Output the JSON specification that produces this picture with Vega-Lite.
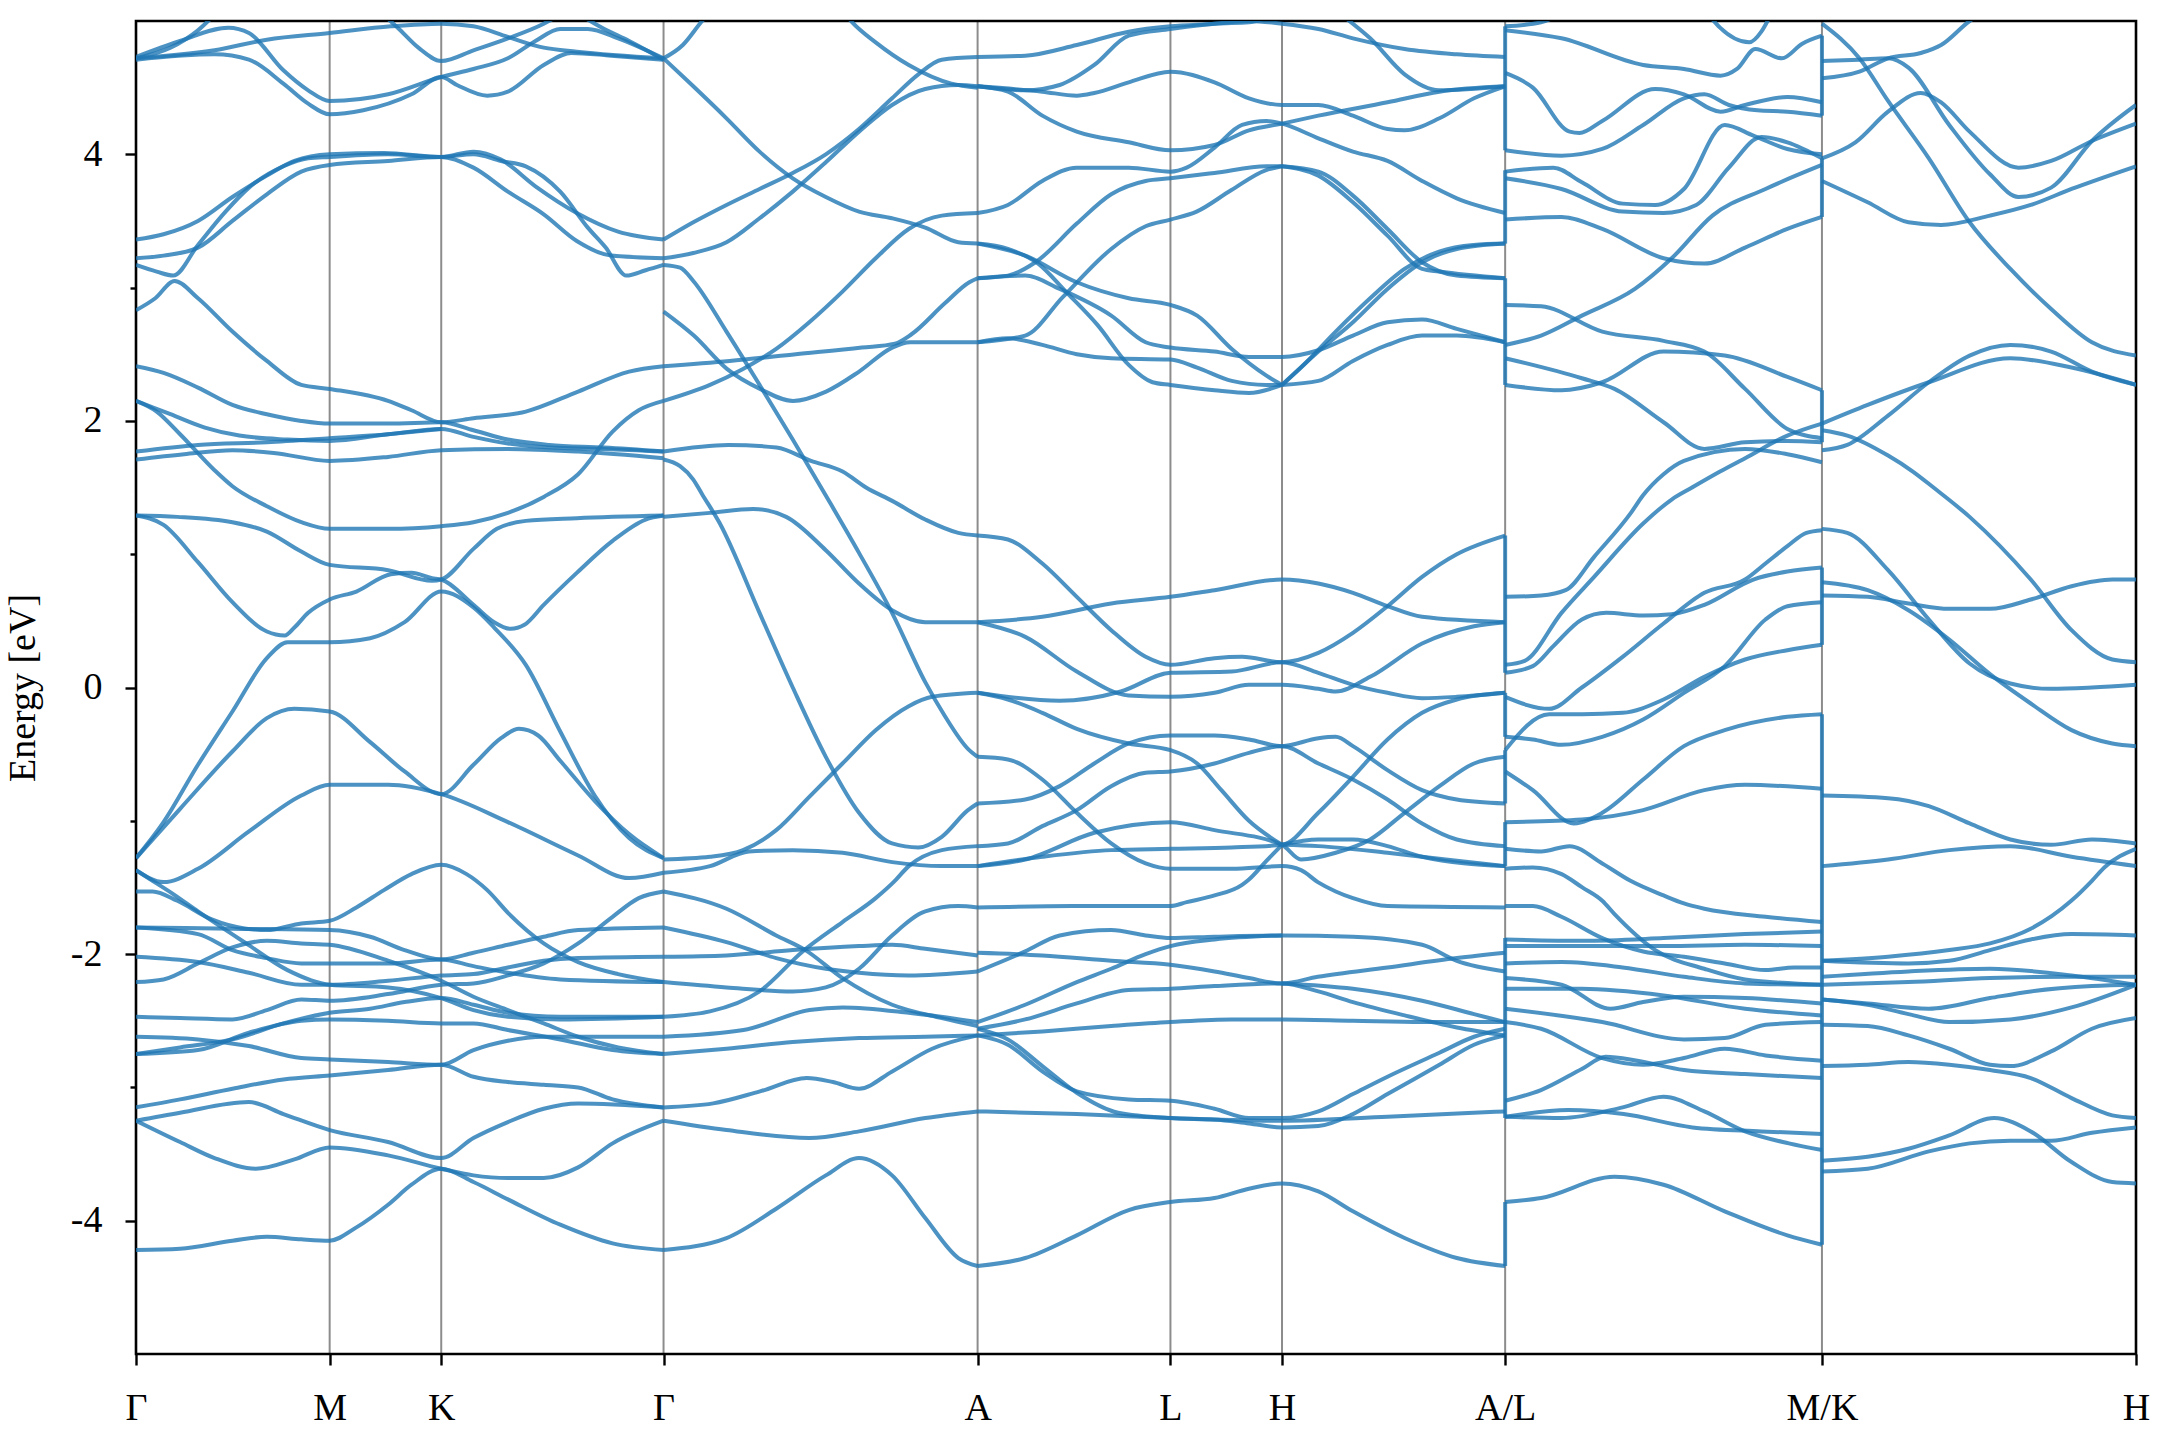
{
  "$schema": "https://vega.github.io/schema/vega-lite/v6.json",
  "width": 2000,
  "height": 1333,
  "autosize": {"type": "none"},
  "padding": {"left": 136, "top": 21, "right": 24, "bottom": 86},
  "background": "white",
  "config": {
    "view": {"stroke": "black", "strokeWidth": 2.6},
    "font": "Liberation Serif"
  },
  "datasets": {
    "sym": [{"k":140.6},{"k":221.6},{"k":383},{"k":611},{"k":751},{"k":832},{"k":994},{"k":1224}],
    "jumps": [
      {"k":994,"e":4.96,"e2":4.03},{"k":994,"e":3.88,"e2":3.33},{"k":994,"e":3.07,"e2":2.27},
      {"k":994,"e":1.14,"e2":0.11},{"k":994,"e":-0.04,"e2":-0.37},{"k":994,"e":-0.47,"e2":-0.87},
      {"k":994,"e":-1.01,"e2":-1.34},{"k":994,"e":-1.88,"e2":-3.23},{"k":994,"e":-3.86,"e2":-4.34},
      {"k":1224,"e":4.89,"e2":4.29},{"k":1224,"e":3.97,"e2":3.53},{"k":1224,"e":2.23,"e2":1.84},
      {"k":1224,"e":0.90,"e2":0.32},{"k":1224,"e":-0.20,"e2":-4.18}
    ],
    "bands": [
{"b":"A1","k":0,"e":4.72},{"b":"A1","k":25,"e":4.80},{"b":"A1","k":45,"e":4.93},{"b":"A1","k":60,"e":5.08},
{"b":"A2","k":0,"e":4.73},{"b":"A2","k":32,"e":4.85},{"b":"A2","k":67,"e":4.95},{"b":"A2","k":82,"e":4.91},{"b":"A2","k":107,"e":4.63},{"b":"A2","k":125,"e":4.48},{"b":"A2","k":140.6,"e":4.40},{"b":"A2","k":183,"e":4.45},{"b":"A2","k":221.6,"e":4.58},{"b":"A2","k":245,"e":4.64},{"b":"A2","k":270,"e":4.72},{"b":"A2","k":290,"e":4.85},{"b":"A2","k":308,"e":4.94},{"b":"A2","k":328,"e":4.94},{"b":"A2","k":350,"e":4.87},{"b":"A2","k":383,"e":4.72},
{"b":"A3","k":0,"e":4.71},{"b":"A3","k":57,"e":4.75},{"b":"A3","k":82,"e":4.71},{"b":"A3","k":107,"e":4.53},{"b":"A3","k":125,"e":4.38},{"b":"A3","k":140.6,"e":4.30},{"b":"A3","k":165,"e":4.33},{"b":"A3","k":200,"e":4.45},{"b":"A3","k":221.6,"e":4.58},{"b":"A3","k":233,"e":4.52},{"b":"A3","k":255,"e":4.44},{"b":"A3","k":270,"e":4.47},{"b":"A3","k":296,"e":4.67},{"b":"A3","k":316,"e":4.76},{"b":"A3","k":345,"e":4.74},{"b":"A3","k":383,"e":4.71},
{"b":"A4","k":0,"e":4.72},{"b":"A4","k":57,"e":4.78},{"b":"A4","k":95,"e":4.86},{"b":"A4","k":140.6,"e":4.91},{"b":"A4","k":185,"e":4.96},{"b":"A4","k":221.6,"e":4.98},{"b":"A4","k":245,"e":4.96},{"b":"A4","k":270,"e":4.88},{"b":"A4","k":296,"e":4.80},{"b":"A4","k":320,"e":4.77},{"b":"A4","k":383,"e":4.72},
{"b":"A5","k":178,"e":5.06},{"b":"A5","k":190,"e":4.95},{"b":"A5","k":205,"e":4.80},{"b":"A5","k":221.6,"e":4.70},{"b":"A5","k":245,"e":4.78},{"b":"A5","k":270,"e":4.87},{"b":"A5","k":296,"e":4.98},{"b":"A5","k":305,"e":5.03},
{"b":"A6","k":320,"e":5.06},{"b":"A6","k":340,"e":4.94},{"b":"A6","k":358,"e":4.85},{"b":"A6","k":383,"e":4.71},
{"b":"A7","k":0,"e":3.36},{"b":"A7","k":20,"e":3.40},{"b":"A7","k":45,"e":3.50},{"b":"A7","k":70,"e":3.68},{"b":"A7","k":95,"e":3.84},{"b":"A7","k":115,"e":3.95},{"b":"A7","k":140.6,"e":4.00},{"b":"A7","k":180,"e":4.01},{"b":"A7","k":221.6,"e":3.98},{"b":"A7","k":245,"e":4.02},{"b":"A7","k":265,"e":3.96},{"b":"A7","k":290,"e":3.76},{"b":"A7","k":320,"e":3.56},{"b":"A7","k":350,"e":3.42},{"b":"A7","k":383,"e":3.36},
{"b":"A8","k":0,"e":3.22},{"b":"A8","k":20,"e":3.24},{"b":"A8","k":45,"e":3.30},{"b":"A8","k":70,"e":3.50},{"b":"A8","k":95,"e":3.70},{"b":"A8","k":120,"e":3.87},{"b":"A8","k":140.6,"e":3.92},{"b":"A8","k":183,"e":3.95},{"b":"A8","k":221.6,"e":3.98},{"b":"A8","k":245,"e":3.90},{"b":"A8","k":270,"e":3.72},{"b":"A8","k":296,"e":3.55},{"b":"A8","k":320,"e":3.35},{"b":"A8","k":345,"e":3.24},{"b":"A8","k":383,"e":3.22},
{"b":"A9","k":0,"e":3.17},{"b":"A9","k":15,"e":3.12},{"b":"A9","k":27,"e":3.09},{"b":"A9","k":45,"e":3.32},{"b":"A9","k":65,"e":3.57},{"b":"A9","k":82,"e":3.75},{"b":"A9","k":107,"e":3.91},{"b":"A9","k":125,"e":3.97},{"b":"A9","k":140.6,"e":3.98},{"b":"A9","k":183,"e":4.00},{"b":"A9","k":221.6,"e":3.98},{"b":"A9","k":245,"e":4.00},{"b":"A9","k":265,"e":3.95},{"b":"A9","k":283,"e":3.91},{"b":"A9","k":308,"e":3.72},{"b":"A9","k":328,"e":3.45},{"b":"A9","k":341,"e":3.30},{"b":"A9","k":356,"e":3.09},{"b":"A9","k":370,"e":3.13},{"b":"A9","k":383,"e":3.17},
{"b":"A10","k":0,"e":2.83},{"b":"A10","k":14,"e":2.92},{"b":"A10","k":28,"e":3.05},{"b":"A10","k":45,"e":2.92},{"b":"A10","k":70,"e":2.67},{"b":"A10","k":95,"e":2.45},{"b":"A10","k":120,"e":2.27},{"b":"A10","k":140.6,"e":2.24},{"b":"A10","k":183,"e":2.15},{"b":"A10","k":200,"e":2.08},{"b":"A10","k":221.6,"e":1.99},{"b":"A10","k":245,"e":2.02},{"b":"A10","k":283,"e":2.07},{"b":"A10","k":321,"e":2.22},{"b":"A10","k":358,"e":2.37},{"b":"A10","k":383,"e":2.41},
{"b":"A12","k":0,"e":2.41},{"b":"A12","k":20,"e":2.36},{"b":"A12","k":45,"e":2.25},{"b":"A12","k":70,"e":2.12},{"b":"A12","k":95,"e":2.05},{"b":"A12","k":120,"e":2.00},{"b":"A12","k":140.6,"e":1.98},{"b":"A12","k":183,"e":1.98},{"b":"A12","k":221.6,"e":1.99},{"b":"A12","k":245,"e":1.93},{"b":"A12","k":270,"e":1.86},{"b":"A12","k":300,"e":1.82},{"b":"A12","k":340,"e":1.80},{"b":"A12","k":383,"e":1.77},
{"b":"A13","k":0,"e":2.15},{"b":"A13","k":15,"e":2.07},{"b":"A13","k":32,"e":1.90},{"b":"A13","k":57,"e":1.63},{"b":"A13","k":70,"e":1.51},{"b":"A13","k":95,"e":1.36},{"b":"A13","k":120,"e":1.24},{"b":"A13","k":140.6,"e":1.19},{"b":"A13","k":183,"e":1.19},{"b":"A13","k":221.6,"e":1.21},{"b":"A13","k":245,"e":1.24},{"b":"A13","k":270,"e":1.31},{"b":"A13","k":296,"e":1.43},{"b":"A13","k":321,"e":1.60},{"b":"A13","k":346,"e":1.92},{"b":"A13","k":365,"e":2.08},{"b":"A13","k":383,"e":2.15},
{"b":"A33","k":0,"e":1.77},{"b":"A33","k":45,"e":1.82},{"b":"A33","k":95,"e":1.84},{"b":"A33","k":140.6,"e":1.87},{"b":"A33","k":183,"e":1.90},{"b":"A33","k":221.6,"e":1.94},{"b":"A33","k":245,"e":1.88},{"b":"A33","k":270,"e":1.83},{"b":"A33","k":300,"e":1.80},{"b":"A33","k":340,"e":1.79},{"b":"A33","k":383,"e":1.77},
{"b":"A34","k":0,"e":1.71},{"b":"A34","k":35,"e":1.75},{"b":"A34","k":70,"e":1.78},{"b":"A34","k":100,"e":1.76},{"b":"A34","k":140.6,"e":1.70},{"b":"A34","k":183,"e":1.73},{"b":"A34","k":221.6,"e":1.78},{"b":"A34","k":270,"e":1.79},{"b":"A34","k":321,"e":1.77},{"b":"A34","k":383,"e":1.72},
{"b":"A35","k":0,"e":2.15},{"b":"A35","k":25,"e":2.05},{"b":"A35","k":50,"e":1.95},{"b":"A35","k":75,"e":1.89},{"b":"A35","k":110,"e":1.86},{"b":"A35","k":140.6,"e":1.85},{"b":"A35","k":183,"e":1.90},{"b":"A35","k":221.6,"e":1.94},
{"b":"A14","k":0,"e":1.29},{"b":"A14","k":30,"e":1.28},{"b":"A14","k":70,"e":1.24},{"b":"A14","k":95,"e":1.17},{"b":"A14","k":120,"e":1.02},{"b":"A14","k":140.6,"e":0.92},{"b":"A14","k":183,"e":0.88},{"b":"A14","k":215,"e":0.80},{"b":"A14","k":221.6,"e":0.81},{"b":"A14","k":245,"e":1.04},{"b":"A14","k":262,"e":1.19},{"b":"A14","k":283,"e":1.25},{"b":"A14","k":320,"e":1.27},{"b":"A14","k":383,"e":1.29},
{"b":"A15","k":0,"e":1.29},{"b":"A15","k":20,"e":1.22},{"b":"A15","k":45,"e":0.94},{"b":"A15","k":70,"e":0.64},{"b":"A15","k":95,"e":0.42},{"b":"A15","k":108,"e":0.39},{"b":"A15","k":115,"e":0.45},{"b":"A15","k":125,"e":0.56},{"b":"A15","k":140.6,"e":0.66},{"b":"A15","k":160,"e":0.72},{"b":"A15","k":185,"e":0.85},{"b":"A15","k":200,"e":0.86},{"b":"A15","k":215,"e":0.82},{"b":"A15","k":221.6,"e":0.81},{"b":"A15","k":245,"e":0.62},{"b":"A15","k":260,"e":0.49},{"b":"A15","k":272,"e":0.44},{"b":"A15","k":282,"e":0.47},{"b":"A15","k":296,"e":0.62},{"b":"A15","k":320,"e":0.86},{"b":"A15","k":346,"e":1.10},{"b":"A15","k":370,"e":1.26},{"b":"A15","k":383,"e":1.29},
{"b":"A16","k":0,"e":-1.28},{"b":"A16","k":20,"e":-1.01},{"b":"A16","k":45,"e":-0.58},{"b":"A16","k":70,"e":-0.18},{"b":"A16","k":95,"e":0.22},{"b":"A16","k":110,"e":0.34},{"b":"A16","k":140.6,"e":0.34},{"b":"A16","k":170,"e":0.37},{"b":"A16","k":195,"e":0.49},{"b":"A16","k":221.6,"e":0.72},{"b":"A16","k":245,"e":0.60},{"b":"A16","k":260,"e":0.45},{"b":"A16","k":283,"e":0.17},{"b":"A16","k":308,"e":-0.33},{"b":"A16","k":333,"e":-0.81},{"b":"A16","k":358,"e":-1.13},{"b":"A16","k":383,"e":-1.28},
{"b":"A17","k":0,"e":-1.28},{"b":"A17","k":32,"e":-0.91},{"b":"A17","k":70,"e":-0.48},{"b":"A17","k":95,"e":-0.23},{"b":"A17","k":115,"e":-0.16},{"b":"A17","k":140.6,"e":-0.18},{"b":"A17","k":170,"e":-0.41},{"b":"A17","k":195,"e":-0.63},{"b":"A17","k":221.6,"e":-0.80},{"b":"A17","k":245,"e":-0.58},{"b":"A17","k":265,"e":-0.38},{"b":"A17","k":278,"e":-0.31},{"b":"A17","k":292,"e":-0.36},{"b":"A17","k":308,"e":-0.55},{"b":"A17","k":333,"e":-0.85},{"b":"A17","k":358,"e":-1.10},{"b":"A17","k":383,"e":-1.28},
{"b":"A18","k":0,"e":-1.37},{"b":"A18","k":20,"e":-1.46},{"b":"A18","k":45,"e":-1.36},{"b":"A18","k":82,"e":-1.08},{"b":"A18","k":120,"e":-0.81},{"b":"A18","k":140.6,"e":-0.73},{"b":"A18","k":183,"e":-0.73},{"b":"A18","k":221.6,"e":-0.80},{"b":"A18","k":270,"e":-1.01},{"b":"A18","k":321,"e":-1.26},{"b":"A18","k":358,"e":-1.43},{"b":"A18","k":383,"e":-1.39},
{"b":"A19","k":0,"e":-1.37},{"b":"A19","k":12,"e":-1.45},{"b":"A19","k":27,"e":-1.55},{"b":"A19","k":45,"e":-1.68},{"b":"A19","k":80,"e":-1.92},{"b":"A19","k":110,"e":-2.12},{"b":"A19","k":140.6,"e":-2.23},{"b":"A19","k":183,"e":-2.25},{"b":"A19","k":221.6,"e":-2.33},{"b":"A19","k":245,"e":-2.42},{"b":"A19","k":270,"e":-2.47},{"b":"A19","k":308,"e":-2.49},{"b":"A19","k":383,"e":-2.47},
{"b":"A20","k":0,"e":-1.53},{"b":"A20","k":12,"e":-1.53},{"b":"A20","k":30,"e":-1.60},{"b":"A20","k":55,"e":-1.74},{"b":"A20","k":80,"e":-1.81},{"b":"A20","k":95,"e":-1.82},{"b":"A20","k":120,"e":-1.77},{"b":"A20","k":140.6,"e":-1.75},{"b":"A20","k":160,"e":-1.65},{"b":"A20","k":180,"e":-1.52},{"b":"A20","k":200,"e":-1.40},{"b":"A20","k":221.6,"e":-1.33},{"b":"A20","k":240,"e":-1.40},{"b":"A20","k":255,"e":-1.52},{"b":"A20","k":271,"e":-1.70},{"b":"A20","k":296,"e":-1.92},{"b":"A20","k":321,"e":-2.06},{"b":"A20","k":350,"e":-2.15},{"b":"A20","k":383,"e":-2.21},
{"b":"A21","k":0,"e":-1.80},{"b":"A21","k":70,"e":-1.81},{"b":"A21","k":140.6,"e":-1.82},{"b":"A21","k":170,"e":-1.87},{"b":"A21","k":195,"e":-1.97},{"b":"A21","k":221.6,"e":-2.04},{"b":"A21","k":245,"e":-1.99},{"b":"A21","k":270,"e":-1.93},{"b":"A21","k":296,"e":-1.87},{"b":"A21","k":321,"e":-1.82},{"b":"A21","k":383,"e":-1.80},
{"b":"A22","k":0,"e":-1.80},{"b":"A22","k":45,"e":-1.85},{"b":"A22","k":70,"e":-1.97},{"b":"A22","k":95,"e":-2.03},{"b":"A22","k":120,"e":-2.07},{"b":"A22","k":140.6,"e":-2.07},{"b":"A22","k":183,"e":-2.07},{"b":"A22","k":221.6,"e":-2.04},{"b":"A22","k":245,"e":-2.09},{"b":"A22","k":270,"e":-2.14},{"b":"A22","k":308,"e":-2.19},{"b":"A22","k":383,"e":-2.21},
{"b":"A23","k":0,"e":-2.02},{"b":"A23","k":45,"e":-2.06},{"b":"A23","k":82,"e":-2.14},{"b":"A23","k":120,"e":-2.23},{"b":"A23","k":140.6,"e":-2.23},{"b":"A23","k":183,"e":-2.20},{"b":"A23","k":221.6,"e":-2.16},{"b":"A23","k":245,"e":-2.15},{"b":"A23","k":270,"e":-2.10},{"b":"A23","k":296,"e":-2.05},{"b":"A23","k":321,"e":-2.03},{"b":"A23","k":383,"e":-2.02},
{"b":"A24","k":0,"e":-2.21},{"b":"A24","k":20,"e":-2.19},{"b":"A24","k":45,"e":-2.07},{"b":"A24","k":70,"e":-1.95},{"b":"A24","k":95,"e":-1.90},{"b":"A24","k":120,"e":-1.92},{"b":"A24","k":140.6,"e":-1.93},{"b":"A24","k":183,"e":-2.05},{"b":"A24","k":221.6,"e":-2.20},{"b":"A24","k":245,"e":-2.32},{"b":"A24","k":270,"e":-2.42},{"b":"A24","k":296,"e":-2.52},{"b":"A24","k":321,"e":-2.62},{"b":"A24","k":350,"e":-2.70},{"b":"A24","k":383,"e":-2.75},
{"b":"A25","k":0,"e":-2.47},{"b":"A25","k":32,"e":-2.48},{"b":"A25","k":70,"e":-2.49},{"b":"A25","k":95,"e":-2.42},{"b":"A25","k":120,"e":-2.34},{"b":"A25","k":140.6,"e":-2.35},{"b":"A25","k":183,"e":-2.30},{"b":"A25","k":221.6,"e":-2.23},{"b":"A25","k":245,"e":-2.22},{"b":"A25","k":270,"e":-2.16},{"b":"A25","k":296,"e":-2.07},{"b":"A25","k":321,"e":-1.92},{"b":"A25","k":346,"e":-1.72},{"b":"A25","k":365,"e":-1.58},{"b":"A25","k":383,"e":-1.53},
{"b":"A26","k":0,"e":-2.75},{"b":"A26","k":32,"e":-2.70},{"b":"A26","k":70,"e":-2.64},{"b":"A26","k":107,"e":-2.52},{"b":"A26","k":140.6,"e":-2.44},{"b":"A26","k":170,"e":-2.41},{"b":"A26","k":195,"e":-2.36},{"b":"A26","k":221.6,"e":-2.33},{"b":"A26","k":245,"e":-2.38},{"b":"A26","k":270,"e":-2.44},{"b":"A26","k":308,"e":-2.47},{"b":"A26","k":383,"e":-2.47},
{"b":"A27","k":0,"e":-2.62},{"b":"A27","k":45,"e":-2.64},{"b":"A27","k":82,"e":-2.69},{"b":"A27","k":120,"e":-2.78},{"b":"A27","k":140.6,"e":-2.79},{"b":"A27","k":183,"e":-2.81},{"b":"A27","k":221.6,"e":-2.83},{"b":"A27","k":245,"e":-2.72},{"b":"A27","k":270,"e":-2.65},{"b":"A27","k":296,"e":-2.62},{"b":"A27","k":383,"e":-2.62},
{"b":"A28","k":0,"e":-2.75},{"b":"A28","k":45,"e":-2.72},{"b":"A28","k":82,"e":-2.59},{"b":"A28","k":120,"e":-2.50},{"b":"A28","k":140.6,"e":-2.49},{"b":"A28","k":183,"e":-2.50},{"b":"A28","k":221.6,"e":-2.52},{"b":"A28","k":245,"e":-2.52},{"b":"A28","k":270,"e":-2.57},{"b":"A28","k":308,"e":-2.64},{"b":"A28","k":346,"e":-2.72},{"b":"A28","k":383,"e":-2.75},
{"b":"A29","k":0,"e":-3.15},{"b":"A29","k":32,"e":-3.09},{"b":"A29","k":70,"e":-3.01},{"b":"A29","k":107,"e":-2.94},{"b":"A29","k":140.6,"e":-2.91},{"b":"A29","k":183,"e":-2.87},{"b":"A29","k":221.6,"e":-2.83},{"b":"A29","k":245,"e":-2.92},{"b":"A29","k":270,"e":-2.96},{"b":"A29","k":296,"e":-2.98},{"b":"A29","k":321,"e":-3.00},{"b":"A29","k":346,"e":-3.09},{"b":"A29","k":383,"e":-3.15},
{"b":"A30","k":0,"e":-3.25},{"b":"A30","k":32,"e":-3.19},{"b":"A30","k":82,"e":-3.11},{"b":"A30","k":107,"e":-3.20},{"b":"A30","k":140.6,"e":-3.32},{"b":"A30","k":183,"e":-3.41},{"b":"A30","k":221.6,"e":-3.53},{"b":"A30","k":245,"e":-3.38},{"b":"A30","k":270,"e":-3.26},{"b":"A30","k":296,"e":-3.16},{"b":"A30","k":321,"e":-3.12},{"b":"A30","k":383,"e":-3.15},
{"b":"A31","k":0,"e":-3.25},{"b":"A31","k":32,"e":-3.41},{"b":"A31","k":57,"e":-3.53},{"b":"A31","k":87,"e":-3.61},{"b":"A31","k":115,"e":-3.54},{"b":"A31","k":140.6,"e":-3.45},{"b":"A31","k":183,"e":-3.51},{"b":"A31","k":221.6,"e":-3.61},{"b":"A31","k":245,"e":-3.66},{"b":"A31","k":270,"e":-3.68},{"b":"A31","k":296,"e":-3.68},{"b":"A31","k":321,"e":-3.60},{"b":"A31","k":346,"e":-3.42},{"b":"A31","k":383,"e":-3.25},
{"b":"A32","k":0,"e":-4.22},{"b":"A32","k":32,"e":-4.21},{"b":"A32","k":70,"e":-4.15},{"b":"A32","k":95,"e":-4.12},{"b":"A32","k":120,"e":-4.14},{"b":"A32","k":140.6,"e":-4.15},{"b":"A32","k":160,"e":-4.05},{"b":"A32","k":183,"e":-3.88},{"b":"A32","k":200,"e":-3.73},{"b":"A32","k":221.6,"e":-3.61},{"b":"A32","k":245,"e":-3.71},{"b":"A32","k":270,"e":-3.84},{"b":"A32","k":308,"e":-4.03},{"b":"A32","k":346,"e":-4.17},{"b":"A32","k":383,"e":-4.22},
{"b":"B1","k":383,"e":4.72},{"b":"B1","k":397,"e":4.82},{"b":"B1","k":411,"e":5.0},{"b":"B1","k":418,"e":5.08},
{"b":"B2","k":383,"e":4.72},{"b":"B2","k":404.6,"e":4.51},{"b":"B2","k":428.7,"e":4.27},{"b":"B2","k":452.7,"e":4.02},{"b":"B2","k":476.8,"e":3.82},{"b":"B2","k":500.8,"e":3.68},{"b":"B2","k":524.9,"e":3.57},{"b":"B2","k":548.9,"e":3.52},{"b":"B2","k":573,"e":3.45},{"b":"B2","k":597,"e":3.34},{"b":"B2","k":611,"e":3.33},
{"b":"B3","k":383,"e":3.36},{"b":"B3","k":404.6,"e":3.49},{"b":"B3","k":428.7,"e":3.62},{"b":"B3","k":452.7,"e":3.74},{"b":"B3","k":476.8,"e":3.86},{"b":"B3","k":500.8,"e":4.00},{"b":"B3","k":524.9,"e":4.19},{"b":"B3","k":548.9,"e":4.42},{"b":"B3","k":568,"e":4.60},{"b":"B3","k":585,"e":4.71},{"b":"B3","k":611,"e":4.73},
{"b":"B4","k":383,"e":3.22},{"b":"B4","k":404.6,"e":3.26},{"b":"B4","k":428.7,"e":3.34},{"b":"B4","k":452.7,"e":3.52},{"b":"B4","k":476.8,"e":3.72},{"b":"B4","k":500.8,"e":3.94},{"b":"B4","k":524.9,"e":4.17},{"b":"B4","k":548.9,"e":4.37},{"b":"B4","k":573,"e":4.49},{"b":"B4","k":597,"e":4.52},{"b":"B4","k":611,"e":4.51},
{"b":"B5","k":515,"e":5.05},{"b":"B5","k":520,"e":4.99},{"b":"B5","k":537,"e":4.84},{"b":"B5","k":561,"e":4.67},{"b":"B5","k":592,"e":4.53},{"b":"B5","k":611,"e":4.50},
{"b":"B6","k":383,"e":3.17},{"b":"B6","k":395,"e":3.15},{"b":"B6","k":404.6,"e":3.05},{"b":"B6","k":428.7,"e":2.67},{"b":"B6","k":452.7,"e":2.27},{"b":"B6","k":476.8,"e":1.86},{"b":"B6","k":500.8,"e":1.44},{"b":"B6","k":524.9,"e":1.01},{"b":"B6","k":548.9,"e":0.56},{"b":"B6","k":573,"e":0.04},{"b":"B6","k":587,"e":-0.21},{"b":"B6","k":604,"e":-0.46},{"b":"B6","k":611,"e":-0.52},
{"b":"B7","k":383,"e":2.82},{"b":"B7","k":405,"e":2.64},{"b":"B7","k":429,"e":2.39},{"b":"B7","k":453,"e":2.24},{"b":"B7","k":477,"e":2.15},{"b":"B7","k":501,"e":2.22},{"b":"B7","k":525,"e":2.37},{"b":"B7","k":549,"e":2.55},{"b":"B7","k":562,"e":2.59},{"b":"B7","k":585,"e":2.59},{"b":"B7","k":611,"e":2.59},
{"b":"B8","k":383,"e":2.41},{"b":"B8","k":431,"e":2.45},{"b":"B8","k":479,"e":2.50},{"b":"B8","k":527,"e":2.55},{"b":"B8","k":551,"e":2.58},{"b":"B8","k":563,"e":2.65},{"b":"B8","k":587,"e":2.88},{"b":"B8","k":605,"e":3.04},{"b":"B8","k":611,"e":3.07},
{"b":"B9","k":383,"e":2.15},{"b":"B9","k":416.7,"e":2.27},{"b":"B9","k":440.7,"e":2.39},{"b":"B9","k":464.8,"e":2.54},{"b":"B9","k":488.8,"e":2.74},{"b":"B9","k":512.9,"e":2.97},{"b":"B9","k":537,"e":3.22},{"b":"B9","k":561,"e":3.44},{"b":"B9","k":585,"e":3.54},{"b":"B9","k":611,"e":3.56},
{"b":"B10","k":383,"e":1.77},{"b":"B10","k":430,"e":1.82},{"b":"B10","k":465,"e":1.80},{"b":"B10","k":490,"e":1.70},{"b":"B10","k":513,"e":1.62},{"b":"B10","k":530,"e":1.50},{"b":"B10","k":549,"e":1.40},{"b":"B10","k":573,"e":1.26},{"b":"B10","k":597,"e":1.16},{"b":"B10","k":611,"e":1.14},
{"b":"B11","k":383,"e":1.71},{"b":"B11","k":395,"e":1.66},{"b":"B11","k":404.6,"e":1.56},{"b":"B11","k":411,"e":1.45},{"b":"B11","k":423.9,"e":1.23},{"b":"B11","k":452.7,"e":0.56},{"b":"B11","k":476.8,"e":0.00},{"b":"B11","k":500.8,"e":-0.52},{"b":"B11","k":524.9,"e":-0.94},{"b":"B11","k":548.9,"e":-1.17},{"b":"B11","k":568,"e":-1.20},{"b":"B11","k":585,"e":-1.12},{"b":"B11","k":604,"e":-0.92},{"b":"B11","k":611,"e":-0.87},
{"b":"B12","k":383,"e":1.28},{"b":"B12","k":416.7,"e":1.31},{"b":"B12","k":448,"e":1.34},{"b":"B12","k":472,"e":1.28},{"b":"B12","k":500.8,"e":1.03},{"b":"B12","k":524.9,"e":0.78},{"b":"B12","k":548.9,"e":0.58},{"b":"B12","k":573,"e":0.49},{"b":"B12","k":611,"e":0.49},
{"b":"B13","k":383,"e":-1.29},{"b":"B13","k":416.7,"e":-1.27},{"b":"B13","k":440.7,"e":-1.22},{"b":"B13","k":464.8,"e":-1.07},{"b":"B13","k":488.8,"e":-0.82},{"b":"B13","k":512.9,"e":-0.57},{"b":"B13","k":537,"e":-0.32},{"b":"B13","k":561,"e":-0.14},{"b":"B13","k":578,"e":-0.07},{"b":"B13","k":611,"e":-0.04},
{"b":"B14","k":383,"e":-1.39},{"b":"B14","k":416.7,"e":-1.34},{"b":"B14","k":445,"e":-1.23},{"b":"B14","k":476.8,"e":-1.22},{"b":"B14","k":513,"e":-1.24},{"b":"B14","k":549,"e":-1.31},{"b":"B14","k":585,"e":-1.34},{"b":"B14","k":611,"e":-1.34},
{"b":"B15","k":383,"e":-2.47},{"b":"B15","k":416.7,"e":-2.43},{"b":"B15","k":452.7,"e":-2.28},{"b":"B15","k":484,"e":-1.98},{"b":"B15","k":512.9,"e":-1.76},{"b":"B15","k":537,"e":-1.58},{"b":"B15","k":550,"e":-1.46},{"b":"B15","k":561,"e":-1.34},{"b":"B15","k":585,"e":-1.22},{"b":"B15","k":611,"e":-1.19},
{"b":"B16","k":383,"e":-1.53},{"b":"B16","k":428.7,"e":-1.66},{"b":"B16","k":464.8,"e":-1.86},{"b":"B16","k":486,"e":-1.97},{"b":"B16","k":512.9,"e":-2.18},{"b":"B16","k":549,"e":-2.38},{"b":"B16","k":585,"e":-2.48},{"b":"B16","k":611,"e":-2.54},
{"b":"B17","k":383,"e":-1.80},{"b":"B17","k":428.7,"e":-1.91},{"b":"B17","k":464.8,"e":-2.03},{"b":"B17","k":500.8,"e":-2.11},{"b":"B17","k":524.9,"e":-2.14},{"b":"B17","k":561,"e":-2.16},{"b":"B17","k":611,"e":-2.13},
{"b":"B18","k":383,"e":-2.02},{"b":"B18","k":428.7,"e":-2.01},{"b":"B18","k":476.8,"e":-1.97},{"b":"B18","k":524.9,"e":-1.94},{"b":"B18","k":548.9,"e":-1.93},{"b":"B18","k":573,"e":-1.96},{"b":"B18","k":611,"e":-2.01},
{"b":"B19","k":383,"e":-2.21},{"b":"B19","k":428.7,"e":-2.25},{"b":"B19","k":476.8,"e":-2.28},{"b":"B19","k":500.8,"e":-2.25},{"b":"B19","k":524.9,"e":-2.11},{"b":"B19","k":548.9,"e":-1.86},{"b":"B19","k":573,"e":-1.68},{"b":"B19","k":597,"e":-1.64},{"b":"B19","k":611,"e":-1.65},
{"b":"B20","k":383,"e":-2.62},{"b":"B20","k":441,"e":-2.57},{"b":"B20","k":489,"e":-2.42},{"b":"B20","k":513,"e":-2.40},{"b":"B20","k":561,"e":-2.44},{"b":"B20","k":611,"e":-2.51},
{"b":"B21","k":383,"e":-2.75},{"b":"B21","k":428.7,"e":-2.71},{"b":"B21","k":476.8,"e":-2.66},{"b":"B21","k":524.9,"e":-2.63},{"b":"B21","k":573,"e":-2.62},{"b":"B21","k":611,"e":-2.61},
{"b":"B22","k":383,"e":-3.15},{"b":"B22","k":419,"e":-3.12},{"b":"B22","k":453,"e":-3.03},{"b":"B22","k":487,"e":-2.93},{"b":"B22","k":506,"e":-2.96},{"b":"B22","k":525,"e":-3.01},{"b":"B22","k":549,"e":-2.88},{"b":"B22","k":578,"e":-2.71},{"b":"B22","k":611,"e":-2.61},
{"b":"B23","k":383,"e":-3.25},{"b":"B23","k":428.7,"e":-3.32},{"b":"B23","k":488.8,"e":-3.38},{"b":"B23","k":524.9,"e":-3.33},{"b":"B23","k":573,"e":-3.23},{"b":"B23","k":611,"e":-3.18},
{"b":"B24","k":383,"e":-4.22},{"b":"B24","k":428.7,"e":-4.13},{"b":"B24","k":464.8,"e":-3.91},{"b":"B24","k":500.8,"e":-3.66},{"b":"B24","k":524.9,"e":-3.53},{"b":"B24","k":548.9,"e":-3.66},{"b":"B24","k":573,"e":-3.98},{"b":"B24","k":597,"e":-4.28},{"b":"B24","k":611,"e":-4.34},
{"b":"C1","k":611,"e":4.73},{"b":"C1","k":645.6,"e":4.74},{"b":"C1","k":683,"e":4.82},{"b":"C1","k":720.7,"e":4.92},{"b":"C1","k":751,"e":4.96},{"b":"C1","k":783,"e":4.98},{"b":"C1","k":808,"e":5.0},{"b":"C1","k":832,"e":4.98},{"b":"C1","k":858.4,"e":4.94},{"b":"C1","k":883.5,"e":4.87},{"b":"C1","k":921,"e":4.79},{"b":"C1","k":958.9,"e":4.75},{"b":"C1","k":994,"e":4.73},
{"b":"C2","k":611,"e":4.51},{"b":"C2","k":658,"e":4.47},{"b":"C2","k":683,"e":4.44},{"b":"C2","k":695.7,"e":4.46},{"b":"C2","k":720.7,"e":4.54},{"b":"C2","k":751,"e":4.62},{"b":"C2","k":783,"e":4.54},{"b":"C2","k":808,"e":4.42},{"b":"C2","k":832,"e":4.37},{"b":"C2","k":858.4,"e":4.37},{"b":"C2","k":883.5,"e":4.29},{"b":"C2","k":908.6,"e":4.19},{"b":"C2","k":921,"e":4.18},{"b":"C2","k":946.3,"e":4.27},{"b":"C2","k":971.4,"e":4.42},{"b":"C2","k":994,"e":4.51},
{"b":"C3","k":611,"e":4.51},{"b":"C3","k":633,"e":4.47},{"b":"C3","k":658,"e":4.29},{"b":"C3","k":683,"e":4.17},{"b":"C3","k":720.7,"e":4.09},{"b":"C3","k":751,"e":4.03},{"b":"C3","k":783,"e":4.07},{"b":"C3","k":808,"e":4.18},{"b":"C3","k":832,"e":4.23},{"b":"C3","k":858.4,"e":4.29},{"b":"C3","k":908.6,"e":4.39},{"b":"C3","k":946.3,"e":4.47},{"b":"C3","k":994,"e":4.51},
{"b":"C4","k":611,"e":4.51},{"b":"C4","k":645.6,"e":4.48},{"b":"C4","k":670.6,"e":4.52},{"b":"C4","k":695.7,"e":4.67},{"b":"C4","k":720.7,"e":4.89},{"b":"C4","k":751,"e":4.94},{"b":"C4","k":783,"e":4.98},{"b":"C4","k":808,"e":4.99},{"b":"C4","k":820,"e":5.02},
{"b":"C5","k":878.5,"e":5.02},{"b":"C5","k":896,"e":4.87},{"b":"C5","k":921,"e":4.60},{"b":"C5","k":946,"e":4.48},{"b":"C5","k":994,"e":4.51},
{"b":"C6","k":611,"e":3.56},{"b":"C6","k":633,"e":3.62},{"b":"C6","k":658,"e":3.80},{"b":"C6","k":683,"e":3.90},{"b":"C6","k":720.7,"e":3.90},{"b":"C6","k":751,"e":3.87},{"b":"C6","k":762.8,"e":3.90},{"b":"C6","k":783,"e":4.05},{"b":"C6","k":803,"e":4.22},{"b":"C6","k":820.7,"e":4.25},{"b":"C6","k":832,"e":4.23},{"b":"C6","k":858.4,"e":4.12},{"b":"C6","k":883.5,"e":4.02},{"b":"C6","k":908.6,"e":3.95},{"b":"C6","k":933.7,"e":3.80},{"b":"C6","k":958.9,"e":3.67},{"b":"C6","k":994,"e":3.56},
{"b":"C7","k":611,"e":3.33},{"b":"C7","k":645.6,"e":3.24},{"b":"C7","k":683,"e":3.04},{"b":"C7","k":720.7,"e":2.92},{"b":"C7","k":751,"e":2.87},{"b":"C7","k":770.4,"e":2.79},{"b":"C7","k":795.5,"e":2.54},{"b":"C7","k":820.7,"e":2.34},{"b":"C7","k":832,"e":2.27},
{"b":"C8","k":611,"e":3.33},{"b":"C8","k":633,"e":3.29},{"b":"C8","k":655,"e":3.18},{"b":"C8","k":675,"e":2.97},{"b":"C8","k":698,"e":2.72},{"b":"C8","k":720.7,"e":2.42},{"b":"C8","k":738,"e":2.29},{"b":"C8","k":751,"e":2.27},{"b":"C8","k":783,"e":2.23},{"b":"C8","k":808,"e":2.21},{"b":"C8","k":832,"e":2.27},
{"b":"C9","k":611,"e":3.07},{"b":"C9","k":645.6,"e":3.09},{"b":"C9","k":670.6,"e":2.99},{"b":"C9","k":708,"e":2.79},{"b":"C9","k":733,"e":2.59},{"b":"C9","k":751,"e":2.55},{"b":"C9","k":783,"e":2.52},{"b":"C9","k":808,"e":2.48},{"b":"C9","k":832,"e":2.48},{"b":"C9","k":858.4,"e":2.53},{"b":"C9","k":883.5,"e":2.64},{"b":"C9","k":908.6,"e":2.74},{"b":"C9","k":933.7,"e":2.76},{"b":"C9","k":958.9,"e":2.69},{"b":"C9","k":994,"e":2.59},
{"b":"C10","k":611,"e":3.07},{"b":"C10","k":633,"e":3.09},{"b":"C10","k":653,"e":3.19},{"b":"C10","k":683,"e":3.48},{"b":"C10","k":708,"e":3.70},{"b":"C10","k":733,"e":3.80},{"b":"C10","k":751,"e":3.82},{"b":"C10","k":783,"e":3.86},{"b":"C10","k":820.7,"e":3.91},{"b":"C10","k":832,"e":3.91},
{"b":"C11","k":611,"e":2.59},{"b":"C11","k":645.6,"e":2.64},{"b":"C11","k":673,"e":2.93},{"b":"C11","k":708,"e":3.29},{"b":"C11","k":733,"e":3.46},{"b":"C11","k":751,"e":3.51},{"b":"C11","k":770,"e":3.57},{"b":"C11","k":795,"e":3.73},{"b":"C11","k":820,"e":3.88},{"b":"C11","k":832,"e":3.91},
{"b":"C12","k":611,"e":2.59},{"b":"C12","k":633,"e":2.62},{"b":"C12","k":658,"e":2.57},{"b":"C12","k":683,"e":2.50},{"b":"C12","k":708,"e":2.47},{"b":"C12","k":751,"e":2.46},{"b":"C12","k":770.4,"e":2.40},{"b":"C12","k":795.5,"e":2.30},{"b":"C12","k":820.7,"e":2.27},{"b":"C12","k":832,"e":2.27},
{"b":"C13","k":832,"e":3.91},{"b":"C13","k":858.4,"e":3.87},{"b":"C13","k":883.5,"e":3.69},{"b":"C13","k":908.6,"e":3.44},{"b":"C13","k":933.7,"e":3.19},{"b":"C13","k":958.9,"e":3.09},{"b":"C13","k":994,"e":3.07},
{"b":"C14","k":832,"e":3.91},{"b":"C14","k":858.4,"e":3.84},{"b":"C14","k":883.5,"e":3.64},{"b":"C14","k":908.6,"e":3.39},{"b":"C14","k":933.7,"e":3.14},{"b":"C14","k":946,"e":3.12},{"b":"C14","k":994,"e":3.07},
{"b":"C15","k":832,"e":2.27},{"b":"C15","k":845.8,"e":2.40},{"b":"C15","k":871,"e":2.67},{"b":"C15","k":896,"e":2.92},{"b":"C15","k":921,"e":3.14},{"b":"C15","k":946,"e":3.27},{"b":"C15","k":971,"e":3.32},{"b":"C15","k":994,"e":3.33},
{"b":"C16","k":832,"e":2.27},{"b":"C16","k":858.4,"e":2.52},{"b":"C16","k":883.5,"e":2.74},{"b":"C16","k":908.6,"e":2.99},{"b":"C16","k":933.7,"e":3.19},{"b":"C16","k":958.9,"e":3.29},{"b":"C16","k":994,"e":3.33},
{"b":"C17","k":832,"e":2.27},{"b":"C17","k":858.4,"e":2.30},{"b":"C17","k":883.5,"e":2.45},{"b":"C17","k":908.6,"e":2.57},{"b":"C17","k":933.7,"e":2.64},{"b":"C17","k":958.9,"e":2.64},{"b":"C17","k":994,"e":2.59},
{"b":"C18","k":611,"e":1.14},{"b":"C18","k":633,"e":1.11},{"b":"C18","k":658,"e":0.93},{"b":"C18","k":683,"e":0.68},{"b":"C18","k":708,"e":0.43},{"b":"C18","k":733,"e":0.23},{"b":"C18","k":751,"e":0.17},{"b":"C18","k":783,"e":0.22},{"b":"C18","k":803,"e":0.23},{"b":"C18","k":832,"e":0.19},{"b":"C18","k":858.4,"e":0.26},{"b":"C18","k":883.5,"e":0.41},{"b":"C18","k":908.6,"e":0.61},{"b":"C18","k":933.7,"e":0.83},{"b":"C18","k":958.9,"e":1.00},{"b":"C18","k":994,"e":1.14},
{"b":"C19","k":611,"e":0.49},{"b":"C19","k":658,"e":0.53},{"b":"C19","k":708,"e":0.63},{"b":"C19","k":751,"e":0.68},{"b":"C19","k":783,"e":0.73},{"b":"C19","k":832,"e":0.81},{"b":"C19","k":858.4,"e":0.78},{"b":"C19","k":883.5,"e":0.71},{"b":"C19","k":908.6,"e":0.61},{"b":"C19","k":933.7,"e":0.53},{"b":"C19","k":994,"e":0.49},
{"b":"C20","k":611,"e":0.49},{"b":"C20","k":645.6,"e":0.38},{"b":"C20","k":683,"e":0.12},{"b":"C20","k":720.7,"e":-0.06},{"b":"C20","k":751,"e":-0.07},{"b":"C20","k":783,"e":-0.04},{"b":"C20","k":808,"e":0.02},{"b":"C20","k":832,"e":0.02},{"b":"C20","k":858.4,"e":-0.01},{"b":"C20","k":871,"e":-0.03},{"b":"C20","k":896,"e":0.08},{"b":"C20","k":933.7,"e":0.33},{"b":"C20","k":971.4,"e":0.46},{"b":"C20","k":994,"e":0.49},
{"b":"C21","k":611,"e":-0.04},{"b":"C21","k":670.6,"e":-0.10},{"b":"C21","k":715,"e":-0.03},{"b":"C21","k":751,"e":0.11},{"b":"C21","k":795.5,"e":0.12},{"b":"C21","k":832,"e":0.19},{"b":"C21","k":858.4,"e":0.11},{"b":"C21","k":883.5,"e":0.02},{"b":"C21","k":908.6,"e":-0.04},{"b":"C21","k":933.7,"e":-0.08},{"b":"C21","k":958.9,"e":-0.07},{"b":"C21","k":994,"e":-0.04},
{"b":"C22","k":611,"e":-0.04},{"b":"C22","k":633,"e":-0.09},{"b":"C22","k":658,"e":-0.19},{"b":"C22","k":683,"e":-0.31},{"b":"C22","k":720.7,"e":-0.42},{"b":"C22","k":751,"e":-0.47},{"b":"C22","k":770.4,"e":-0.57},{"b":"C22","k":788,"e":-0.77},{"b":"C22","k":808,"e":-1.00},{"b":"C22","k":832,"e":-1.18},
{"b":"C23","k":611,"e":-0.52},{"b":"C23","k":633,"e":-0.54},{"b":"C23","k":658,"e":-0.69},{"b":"C23","k":683,"e":-0.94},{"b":"C23","k":708,"e":-1.17},{"b":"C23","k":733,"e":-1.32},{"b":"C23","k":751,"e":-1.36},{"b":"C23","k":795.5,"e":-1.36},{"b":"C23","k":832,"e":-1.34},{"b":"C23","k":845.8,"e":-1.37},{"b":"C23","k":858,"e":-1.46},{"b":"C23","k":871,"e":-1.53},{"b":"C23","k":883.5,"e":-1.58},{"b":"C23","k":908.6,"e":-1.64},{"b":"C23","k":994,"e":-1.65},
{"b":"C24","k":611,"e":-0.87},{"b":"C24","k":645.6,"e":-0.84},{"b":"C24","k":670.6,"e":-0.74},{"b":"C24","k":695.7,"e":-0.57},{"b":"C24","k":720.7,"e":-0.42},{"b":"C24","k":751,"e":-0.36},{"b":"C24","k":783,"e":-0.36},{"b":"C24","k":808,"e":-0.39},{"b":"C24","k":832,"e":-0.44},{"b":"C24","k":858.4,"e":-0.38},{"b":"C24","k":871,"e":-0.37},{"b":"C24","k":883.5,"e":-0.44},{"b":"C24","k":908.6,"e":-0.62},{"b":"C24","k":933.7,"e":-0.77},{"b":"C24","k":958.9,"e":-0.84},{"b":"C24","k":994,"e":-0.87},
{"b":"C25","k":611,"e":-1.19},{"b":"C25","k":633,"e":-1.17},{"b":"C25","k":658,"e":-1.04},{"b":"C25","k":683,"e":-0.92},{"b":"C25","k":708,"e":-0.74},{"b":"C25","k":733,"e":-0.64},{"b":"C25","k":751,"e":-0.63},{"b":"C25","k":783,"e":-0.57},{"b":"C25","k":808,"e":-0.49},{"b":"C25","k":832,"e":-0.44},{"b":"C25","k":858.4,"e":-0.57},{"b":"C25","k":883.5,"e":-0.69},{"b":"C25","k":908.6,"e":-0.84},{"b":"C25","k":933.7,"e":-1.02},{"b":"C25","k":958.9,"e":-1.14},{"b":"C25","k":994,"e":-1.19},
{"b":"C26","k":611,"e":-1.34},{"b":"C26","k":645.6,"e":-1.29},{"b":"C26","k":695.7,"e":-1.09},{"b":"C26","k":751,"e":-1.01},{"b":"C26","k":783,"e":-1.07},{"b":"C26","k":832,"e":-1.18},{"b":"C26","k":845.8,"e":-1.29},{"b":"C26","k":871,"e":-1.24},{"b":"C26","k":896,"e":-1.14},{"b":"C26","k":921,"e":-0.94},{"b":"C26","k":946.3,"e":-0.74},{"b":"C26","k":971.4,"e":-0.57},{"b":"C26","k":994,"e":-0.52},
{"b":"C27","k":611,"e":-1.34},{"b":"C27","k":658,"e":-1.27},{"b":"C27","k":708,"e":-1.22},{"b":"C27","k":751,"e":-1.21},{"b":"C27","k":795.5,"e":-1.20},{"b":"C27","k":832,"e":-1.18},{"b":"C27","k":858.4,"e":-0.94},{"b":"C27","k":883.5,"e":-0.67},{"b":"C27","k":908.6,"e":-0.39},{"b":"C27","k":933.7,"e":-0.19},{"b":"C27","k":958.9,"e":-0.09},{"b":"C27","k":994,"e":-0.04},
{"b":"C28","k":832,"e":-1.18},{"b":"C28","k":858.4,"e":-1.14},{"b":"C28","k":883.5,"e":-1.14},{"b":"C28","k":908.6,"e":-1.19},{"b":"C28","k":933.7,"e":-1.27},{"b":"C28","k":994,"e":-1.34},
{"b":"C29","k":832,"e":-1.18},{"b":"C29","k":858.4,"e":-1.19},{"b":"C29","k":908.6,"e":-1.24},{"b":"C29","k":958.9,"e":-1.30},{"b":"C29","k":994,"e":-1.34},
{"b":"C30","k":611,"e":-1.65},{"b":"C30","k":680,"e":-1.64},{"b":"C30","k":751,"e":-1.64},{"b":"C30","k":762.8,"e":-1.61},{"b":"C30","k":783,"e":-1.56},{"b":"C30","k":803,"e":-1.48},{"b":"C30","k":808,"e":-1.44},{"b":"C30","k":820.7,"e":-1.30},{"b":"C30","k":832,"e":-1.18},
{"b":"C32","k":611,"e":-2.13},{"b":"C32","k":645.6,"e":-1.98},{"b":"C32","k":670.6,"e":-1.86},{"b":"C32","k":708,"e":-1.82},{"b":"C32","k":733,"e":-1.86},{"b":"C32","k":751,"e":-1.88},{"b":"C32","k":783,"e":-1.87},{"b":"C32","k":832,"e":-1.86},{"b":"C32","k":883.5,"e":-1.87},{"b":"C32","k":933.7,"e":-1.93},{"b":"C32","k":958.9,"e":-2.05},{"b":"C32","k":994,"e":-2.13},
{"b":"C33","k":611,"e":-1.99},{"b":"C33","k":658,"e":-2.01},{"b":"C33","k":708,"e":-2.05},{"b":"C33","k":751,"e":-2.08},{"b":"C33","k":783,"e":-2.13},{"b":"C33","k":808,"e":-2.18},{"b":"C33","k":832,"e":-2.22},{"b":"C33","k":858,"e":-2.17},{"b":"C33","k":908.6,"e":-2.10},{"b":"C33","k":958.9,"e":-2.03},{"b":"C33","k":994,"e":-1.99},
{"b":"C34","k":611,"e":-2.51},{"b":"C34","k":645.6,"e":-2.38},{"b":"C34","k":683,"e":-2.21},{"b":"C34","k":708,"e":-2.11},{"b":"C34","k":733,"e":-2.00},{"b":"C34","k":751,"e":-1.94},{"b":"C34","k":783,"e":-1.89},{"b":"C34","k":832,"e":-1.86},
{"b":"C35","k":611,"e":-2.56},{"b":"C35","k":645.6,"e":-2.49},{"b":"C35","k":683,"e":-2.37},{"b":"C35","k":720.7,"e":-2.27},{"b":"C35","k":751,"e":-2.26},{"b":"C35","k":783,"e":-2.24},{"b":"C35","k":832,"e":-2.22},{"b":"C35","k":858.4,"e":-2.28},{"b":"C35","k":883.5,"e":-2.36},{"b":"C35","k":921,"e":-2.46},{"b":"C35","k":958.9,"e":-2.55},{"b":"C35","k":994,"e":-2.61},
{"b":"C36","k":611,"e":-2.61},{"b":"C36","k":658,"e":-2.58},{"b":"C36","k":708,"e":-2.54},{"b":"C36","k":751,"e":-2.51},{"b":"C36","k":795.5,"e":-2.49},{"b":"C36","k":832,"e":-2.49},{"b":"C36","k":883.5,"e":-2.50},{"b":"C36","k":933.7,"e":-2.51},{"b":"C36","k":994,"e":-2.51},
{"b":"C37","k":611,"e":-2.61},{"b":"C37","k":633,"e":-2.68},{"b":"C37","k":658,"e":-2.88},{"b":"C37","k":683,"e":-3.03},{"b":"C37","k":720.7,"e":-3.09},{"b":"C37","k":751,"e":-3.10},{"b":"C37","k":783,"e":-3.16},{"b":"C37","k":808,"e":-3.23},{"b":"C37","k":832,"e":-3.23},{"b":"C37","k":858.4,"e":-3.18},{"b":"C37","k":883.5,"e":-3.05},{"b":"C37","k":908.6,"e":-2.92},{"b":"C37","k":946.3,"e":-2.74},{"b":"C37","k":971.4,"e":-2.62},{"b":"C37","k":994,"e":-2.56},
{"b":"C38","k":611,"e":-2.56},{"b":"C38","k":633,"e":-2.64},{"b":"C38","k":658,"e":-2.84},{"b":"C38","k":683,"e":-3.04},{"b":"C38","k":713,"e":-3.19},{"b":"C38","k":751,"e":-3.23},{"b":"C38","k":783,"e":-3.24},{"b":"C38","k":808,"e":-3.27},{"b":"C38","k":832,"e":-3.30},{"b":"C38","k":858.4,"e":-3.29},{"b":"C38","k":883.5,"e":-3.20},{"b":"C38","k":908.6,"e":-3.05},{"b":"C38","k":946.3,"e":-2.83},{"b":"C38","k":971.4,"e":-2.68},{"b":"C38","k":994,"e":-2.61},
{"b":"C39","k":611,"e":-3.18},{"b":"C39","k":683,"e":-3.20},{"b":"C39","k":751,"e":-3.23},{"b":"C39","k":832,"e":-3.25},{"b":"C39","k":908.6,"e":-3.22},{"b":"C39","k":994,"e":-3.18},
{"b":"C40","k":611,"e":-4.34},{"b":"C40","k":645.6,"e":-4.28},{"b":"C40","k":683,"e":-4.11},{"b":"C40","k":720.7,"e":-3.92},{"b":"C40","k":751,"e":-3.86},{"b":"C40","k":783,"e":-3.83},{"b":"C40","k":808,"e":-3.76},{"b":"C40","k":832,"e":-3.72},{"b":"C40","k":858.4,"e":-3.78},{"b":"C40","k":883.5,"e":-3.93},{"b":"C40","k":921,"e":-4.13},{"b":"C40","k":958.9,"e":-4.28},{"b":"C40","k":994,"e":-4.34},
{"b":"C41","k":832,"e":-2.22},{"b":"C41","k":883.5,"e":-2.26},{"b":"C41","k":933.7,"e":-2.35},{"b":"C41","k":971.4,"e":-2.45},{"b":"C41","k":994,"e":-2.51},
{"b":"D1","k":994,"e":4.93},{"b":"D1","k":1034.9,"e":4.87},{"b":"D1","k":1094.2,"e":4.67},{"b":"D1","k":1123.8,"e":4.64},{"b":"D1","k":1150.4,"e":4.59},{"b":"D1","k":1162.3,"e":4.64},{"b":"D1","k":1175.6,"e":4.79},{"b":"D1","k":1194.9,"e":4.72},{"b":"D1","k":1209.7,"e":4.83},{"b":"D1","k":1224,"e":4.89},
{"b":"D2","k":994,"e":4.96},{"b":"D2","k":1020,"e":4.99},{"b":"D2","k":1030,"e":5.03},
{"b":"D3","k":1143,"e":5.03},{"b":"D3","k":1150,"e":4.95},{"b":"D3","k":1171.2,"e":4.84},{"b":"D3","k":1180,"e":4.92},{"b":"D3","k":1186,"e":5.03},
{"b":"D4","k":994,"e":4.61},{"b":"D4","k":1014.1,"e":4.50},{"b":"D4","k":1040.8,"e":4.17},{"b":"D4","k":1048,"e":4.16},{"b":"D4","k":1064.5,"e":4.25},{"b":"D4","k":1103,"e":4.49},{"b":"D4","k":1123.8,"e":4.45},{"b":"D4","k":1150.4,"e":4.32},{"b":"D4","k":1168.2,"e":4.37},{"b":"D4","k":1198.9,"e":4.43},{"b":"D4","k":1224,"e":4.39},
{"b":"D5","k":994,"e":4.03},{"b":"D5","k":1034.9,"e":3.99},{"b":"D5","k":1064.5,"e":4.04},{"b":"D5","k":1094.2,"e":4.22},{"b":"D5","k":1123.8,"e":4.42},{"b":"D5","k":1138.6,"e":4.45},{"b":"D5","k":1156.4,"e":4.37},{"b":"D5","k":1177.1,"e":4.33},{"b":"D5","k":1198.9,"e":4.32},{"b":"D5","k":1224,"e":4.29},
{"b":"D6","k":994,"e":3.87},{"b":"D6","k":1029,"e":3.90},{"b":"D6","k":1049.7,"e":3.79},{"b":"D6","k":1079.3,"e":3.63},{"b":"D6","k":1103,"e":3.62},{"b":"D6","k":1123.8,"e":3.74},{"b":"D6","k":1153.4,"e":4.22},{"b":"D6","k":1174.2,"e":4.14},{"b":"D6","k":1198.9,"e":4.04},{"b":"D6","k":1224,"e":4.00},
{"b":"D7","k":994,"e":3.82},{"b":"D7","k":1034.9,"e":3.74},{"b":"D7","k":1079.3,"e":3.57},{"b":"D7","k":1109,"e":3.56},{"b":"D7","k":1132.7,"e":3.62},{"b":"D7","k":1156.4,"e":3.90},{"b":"D7","k":1180.1,"e":4.13},{"b":"D7","k":1198.9,"e":4.09},{"b":"D7","k":1224,"e":3.97},
{"b":"D8","k":994,"e":3.51},{"b":"D8","k":1034.9,"e":3.53},{"b":"D8","k":1064.5,"e":3.44},{"b":"D8","k":1109,"e":3.22},{"b":"D8","k":1138.6,"e":3.18},{"b":"D8","k":1168.2,"e":3.30},{"b":"D8","k":1198.9,"e":3.44},{"b":"D8","k":1224,"e":3.53},
{"b":"D9","k":994,"e":2.57},{"b":"D9","k":1020.1,"e":2.64},{"b":"D9","k":1049.7,"e":2.79},{"b":"D9","k":1088.2,"e":2.99},{"b":"D9","k":1114.9,"e":3.22},{"b":"D9","k":1144.5,"e":3.54},{"b":"D9","k":1183,"e":3.74},{"b":"D9","k":1224,"e":3.92},
{"b":"D10","k":994,"e":2.87},{"b":"D10","k":1020.1,"e":2.86},{"b":"D10","k":1064.5,"e":2.67},{"b":"D10","k":1109,"e":2.60},{"b":"D10","k":1138.6,"e":2.52},{"b":"D10","k":1168.2,"e":2.24},{"b":"D10","k":1198.9,"e":1.94},{"b":"D10","k":1224,"e":1.87},
{"b":"D11","k":994,"e":2.47},{"b":"D11","k":1049.7,"e":2.32},{"b":"D11","k":1073.4,"e":2.24},{"b":"D11","k":1109,"e":1.99},{"b":"D11","k":1138.6,"e":1.79},{"b":"D11","k":1168.2,"e":1.84},{"b":"D11","k":1198.9,"e":1.85},{"b":"D11","k":1224,"e":1.84},
{"b":"D12","k":994,"e":2.27},{"b":"D12","k":1034.9,"e":2.23},{"b":"D12","k":1064.5,"e":2.29},{"b":"D12","k":1109,"e":2.52},{"b":"D12","k":1153.4,"e":2.49},{"b":"D12","k":1198.9,"e":2.33},{"b":"D12","k":1224,"e":2.23},
{"b":"D13","k":994,"e":0.68},{"b":"D13","k":1020.1,"e":0.69},{"b":"D13","k":1037.9,"e":0.73},{"b":"D13","k":1058.6,"e":0.98},{"b":"D13","k":1085.3,"e":1.31},{"b":"D13","k":1094,"e":1.44},{"b":"D13","k":1109,"e":1.60},{"b":"D13","k":1123.8,"e":1.70},{"b":"D13","k":1168.2,"e":1.79},{"b":"D13","k":1198.9,"e":1.75},{"b":"D13","k":1224,"e":1.69},
{"b":"D14","k":994,"e":0.17},{"b":"D14","k":1008.2,"e":0.20},{"b":"D14","k":1034.9,"e":0.56},{"b":"D14","k":1058.6,"e":0.83},{"b":"D14","k":1094.2,"e":1.23},{"b":"D14","k":1114.9,"e":1.41},{"b":"D14","k":1129.7,"e":1.50},{"b":"D14","k":1150,"e":1.62},{"b":"D14","k":1168.2,"e":1.72},{"b":"D14","k":1198.9,"e":1.89},{"b":"D14","k":1224,"e":1.98},
{"b":"D15","k":994,"e":0.11},{"b":"D15","k":1014.1,"e":0.16},{"b":"D15","k":1029,"e":0.31},{"b":"D15","k":1049.7,"e":0.51},{"b":"D15","k":1067.5,"e":0.56},{"b":"D15","k":1094.2,"e":0.54},{"b":"D15","k":1114.9,"e":0.55},{"b":"D15","k":1138.6,"e":0.62},{"b":"D15","k":1174.2,"e":0.81},{"b":"D15","k":1198.9,"e":0.87},{"b":"D15","k":1224,"e":0.90},
{"b":"D16","k":994,"e":-0.07},{"b":"D16","k":1026,"e":-0.16},{"b":"D16","k":1049.7,"e":0.0},{"b":"D16","k":1079.3,"e":0.23},{"b":"D16","k":1109,"e":0.48},{"b":"D16","k":1138.6,"e":0.71},{"b":"D16","k":1168.2,"e":0.81},{"b":"D16","k":1183,"e":0.93},{"b":"D16","k":1198.9,"e":1.06},{"b":"D16","k":1212.7,"e":1.16},{"b":"D16","k":1224,"e":1.18},
{"b":"D17","k":994,"e":-0.37},{"b":"D17","k":1014.1,"e":-0.39},{"b":"D17","k":1034.9,"e":-0.43},{"b":"D17","k":1064.5,"e":-0.37},{"b":"D17","k":1094.2,"e":-0.24},{"b":"D17","k":1123.8,"e":-0.04},{"b":"D17","k":1153.4,"e":0.16},{"b":"D17","k":1183,"e":0.51},{"b":"D17","k":1198.9,"e":0.61},{"b":"D17","k":1224,"e":0.64},
{"b":"D18","k":994,"e":-0.47},{"b":"D18","k":1026,"e":-0.20},{"b":"D18","k":1050,"e":-0.20},{"b":"D18","k":1079.3,"e":-0.19},{"b":"D18","k":1109,"e":-0.09},{"b":"D18","k":1138.6,"e":0.08},{"b":"D18","k":1168.2,"e":0.21},{"b":"D18","k":1198.9,"e":0.28},{"b":"D18","k":1224,"e":0.32},
{"b":"D19","k":994,"e":-0.63},{"b":"D19","k":1014.1,"e":-0.77},{"b":"D19","k":1043.8,"e":-1.02},{"b":"D19","k":1064.5,"e":-0.94},{"b":"D19","k":1094.2,"e":-0.69},{"b":"D19","k":1123.8,"e":-0.44},{"b":"D19","k":1153.4,"e":-0.32},{"b":"D19","k":1198.9,"e":-0.22},{"b":"D19","k":1224,"e":-0.20},
{"b":"D20","k":994,"e":-1.01},{"b":"D20","k":1049.7,"e":-0.99},{"b":"D20","k":1094.2,"e":-0.92},{"b":"D20","k":1138.6,"e":-0.77},{"b":"D20","k":1168.2,"e":-0.73},{"b":"D20","k":1224,"e":-0.76},
{"b":"D21","k":994,"e":-1.21},{"b":"D21","k":1020.1,"e":-1.23},{"b":"D21","k":1040.8,"e":-1.19},{"b":"D21","k":1064.5,"e":-1.32},{"b":"D21","k":1085,"e":-1.45},{"b":"D21","k":1109,"e":-1.56},{"b":"D21","k":1123.8,"e":-1.62},{"b":"D21","k":1138.6,"e":-1.66},{"b":"D21","k":1183,"e":-1.72},{"b":"D21","k":1224,"e":-1.76},
{"b":"D22","k":994,"e":-1.36},{"b":"D22","k":1014,"e":-1.35},{"b":"D22","k":1035,"e":-1.40},{"b":"D22","k":1050,"e":-1.50},{"b":"D22","k":1064.5,"e":-1.60},{"b":"D22","k":1073.4,"e":-1.70},{"b":"D22","k":1103,"e":-1.97},{"b":"D22","k":1138.6,"e":-2.11},{"b":"D22","k":1168.2,"e":-2.19},{"b":"D22","k":1224,"e":-2.23},
{"b":"D23","k":994,"e":-1.64},{"b":"D23","k":1014.1,"e":-1.64},{"b":"D23","k":1034.9,"e":-1.72},{"b":"D23","k":1064.5,"e":-1.88},{"b":"D23","k":1094.2,"e":-1.98},{"b":"D23","k":1123.8,"e":-2.02},{"b":"D23","k":1153.4,"e":-2.07},{"b":"D23","k":1183,"e":-2.12},{"b":"D23","k":1203.8,"e":-2.10},{"b":"D23","k":1224,"e":-2.10},
{"b":"D24","k":994,"e":-1.89},{"b":"D24","k":1050,"e":-1.90},{"b":"D24","k":1109,"e":-1.88},{"b":"D24","k":1168,"e":-1.85},{"b":"D24","k":1224,"e":-1.83},
{"b":"D25","k":994,"e":-1.94},{"b":"D25","k":1050,"e":-1.94},{"b":"D25","k":1109,"e":-1.94},{"b":"D25","k":1168,"e":-1.93},{"b":"D25","k":1224,"e":-1.94},
{"b":"D26","k":994,"e":-2.07},{"b":"D26","k":1034.9,"e":-2.06},{"b":"D26","k":1079.3,"e":-2.10},{"b":"D26","k":1123.8,"e":-2.17},{"b":"D26","k":1168.2,"e":-2.22},{"b":"D26","k":1224,"e":-2.23},
{"b":"D27","k":994,"e":-2.18},{"b":"D27","k":1034.9,"e":-2.23},{"b":"D27","k":1070.4,"e":-2.41},{"b":"D27","k":1094.2,"e":-2.36},{"b":"D27","k":1123.8,"e":-2.32},{"b":"D27","k":1168.2,"e":-2.33},{"b":"D27","k":1224,"e":-2.37},
{"b":"D28","k":994,"e":-2.26},{"b":"D28","k":1049.7,"e":-2.26},{"b":"D28","k":1109,"e":-2.31},{"b":"D28","k":1168.2,"e":-2.41},{"b":"D28","k":1224,"e":-2.46},
{"b":"D29","k":994,"e":-2.41},{"b":"D29","k":1064.5,"e":-2.51},{"b":"D29","k":1123.8,"e":-2.64},{"b":"D29","k":1153.4,"e":-2.63},{"b":"D29","k":1183,"e":-2.53},{"b":"D29","k":1224,"e":-2.51},
{"b":"D30","k":994,"e":-2.51},{"b":"D30","k":1020.1,"e":-2.56},{"b":"D30","k":1064.5,"e":-2.78},{"b":"D30","k":1094.2,"e":-2.83},{"b":"D30","k":1123.8,"e":-2.78},{"b":"D30","k":1153.4,"e":-2.71},{"b":"D30","k":1183,"e":-2.76},{"b":"D30","k":1224,"e":-2.80},
{"b":"D31","k":994,"e":-3.10},{"b":"D31","k":1020,"e":-3.02},{"b":"D31","k":1050,"e":-2.86},{"b":"D31","k":1067,"e":-2.77},{"b":"D31","k":1090,"e":-2.80},{"b":"D31","k":1123.8,"e":-2.87},{"b":"D31","k":1168,"e":-2.90},{"b":"D31","k":1224,"e":-2.93},
{"b":"D32","k":994,"e":-3.22},{"b":"D32","k":1034.9,"e":-3.23},{"b":"D32","k":1079.3,"e":-3.15},{"b":"D32","k":1109,"e":-3.07},{"b":"D32","k":1138.6,"e":-3.18},{"b":"D32","k":1168.2,"e":-3.33},{"b":"D32","k":1200,"e":-3.42},{"b":"D32","k":1224,"e":-3.47},
{"b":"D33","k":994,"e":-3.22},{"b":"D33","k":1040,"e":-3.17},{"b":"D33","k":1080,"e":-3.20},{"b":"D33","k":1130,"e":-3.30},{"b":"D33","k":1180,"e":-3.33},{"b":"D33","k":1224,"e":-3.35},
{"b":"D34","k":994,"e":-3.86},{"b":"D34","k":1020.1,"e":-3.83},{"b":"D34","k":1073.4,"e":-3.67},{"b":"D34","k":1109,"e":-3.73},{"b":"D34","k":1153.4,"e":-3.93},{"b":"D34","k":1198.9,"e":-4.11},{"b":"D34","k":1224,"e":-4.18},
{"b":"E1","k":1224,"e":4.98},{"b":"E1","k":1251.2,"e":4.72},{"b":"E1","k":1272,"e":4.40},{"b":"E1","k":1301.6,"e":3.97},{"b":"E1","k":1331.2,"e":3.49},{"b":"E1","k":1360.8,"e":3.14},{"b":"E1","k":1390.4,"e":2.84},{"b":"E1","k":1420,"e":2.59},{"b":"E1","k":1452,"e":2.49},
{"b":"E2","k":1224,"e":4.70},{"b":"E2","k":1251.2,"e":4.71},{"b":"E2","k":1272,"e":4.72},{"b":"E2","k":1286.8,"e":4.65},{"b":"E2","k":1316.4,"e":4.22},{"b":"E2","k":1346,"e":3.85},{"b":"E2","k":1366.7,"e":3.68},{"b":"E2","k":1390.4,"e":3.75},{"b":"E2","k":1420,"e":4.10},{"b":"E2","k":1452,"e":4.37},
{"b":"E3","k":1224,"e":4.57},{"b":"E3","k":1251.2,"e":4.62},{"b":"E3","k":1272,"e":4.72},{"b":"E3","k":1295.7,"e":4.76},{"b":"E3","k":1310.5,"e":4.82},{"b":"E3","k":1331.2,"e":5.0},{"b":"E3","k":1340,"e":5.06},
{"b":"E4","k":1224,"e":3.97},{"b":"E4","k":1248.3,"e":4.09},{"b":"E4","k":1272,"e":4.32},{"b":"E4","k":1295.7,"e":4.46},{"b":"E4","k":1310.5,"e":4.39},{"b":"E4","k":1331.2,"e":4.17},{"b":"E4","k":1366.7,"e":3.90},{"b":"E4","k":1390.4,"e":3.95},{"b":"E4","k":1420,"e":4.10},{"b":"E4","k":1452,"e":4.23},
{"b":"E5","k":1224,"e":3.80},{"b":"E5","k":1257.2,"e":3.64},{"b":"E5","k":1286.8,"e":3.49},{"b":"E5","k":1310.5,"e":3.47},{"b":"E5","k":1346,"e":3.54},{"b":"E5","k":1375.6,"e":3.62},{"b":"E5","k":1405.2,"e":3.74},{"b":"E5","k":1452,"e":3.91},
{"b":"E6","k":1224,"e":1.98},{"b":"E6","k":1257.2,"e":2.12},{"b":"E6","k":1301.6,"e":2.29},{"b":"E6","k":1360.8,"e":2.47},{"b":"E6","k":1405.2,"e":2.40},{"b":"E6","k":1452,"e":2.27},
{"b":"E7","k":1224,"e":1.78},{"b":"E7","k":1242.4,"e":1.82},{"b":"E7","k":1272,"e":2.04},{"b":"E7","k":1301.6,"e":2.29},{"b":"E7","k":1331.2,"e":2.49},{"b":"E7","k":1360.8,"e":2.57},{"b":"E7","k":1390.4,"e":2.52},{"b":"E7","k":1420,"e":2.37},{"b":"E7","k":1452,"e":2.27},
{"b":"E8","k":1224,"e":1.93},{"b":"E8","k":1242.4,"e":1.89},{"b":"E8","k":1272,"e":1.74},{"b":"E8","k":1290,"e":1.62},{"b":"E8","k":1305,"e":1.50},{"b":"E8","k":1331.2,"e":1.28},{"b":"E8","k":1375.6,"e":0.81},{"b":"E8","k":1405.2,"e":0.43},{"b":"E8","k":1434.8,"e":0.21},{"b":"E8","k":1452,"e":0.19},
{"b":"E9","k":1224,"e":1.19},{"b":"E9","k":1242.4,"e":1.16},{"b":"E9","k":1272,"e":0.88},{"b":"E9","k":1301.6,"e":0.51},{"b":"E9","k":1331.2,"e":0.18},{"b":"E9","k":1360.8,"e":0.03},{"b":"E9","k":1390.4,"e":-0.01},{"b":"E9","k":1420,"e":0.0},{"b":"E9","k":1452,"e":0.02},
{"b":"E10","k":1224,"e":0.79},{"b":"E10","k":1257.2,"e":0.73},{"b":"E10","k":1286.8,"e":0.58},{"b":"E10","k":1316.4,"e":0.36},{"b":"E10","k":1346,"e":0.10},{"b":"E10","k":1375.6,"e":-0.12},{"b":"E10","k":1405.2,"e":-0.32},{"b":"E10","k":1434.8,"e":-0.42},{"b":"E10","k":1452,"e":-0.44},
{"b":"E11","k":1224,"e":0.69},{"b":"E11","k":1257.2,"e":0.68},{"b":"E11","k":1286.8,"e":0.63},{"b":"E11","k":1316.4,"e":0.59},{"b":"E11","k":1346,"e":0.59},{"b":"E11","k":1375.6,"e":0.66},{"b":"E11","k":1405.2,"e":0.76},{"b":"E11","k":1434.8,"e":0.81},{"b":"E11","k":1452,"e":0.81},
{"b":"E12","k":1224,"e":-0.81},{"b":"E12","k":1272,"e":-0.83},{"b":"E12","k":1301.6,"e":-0.89},{"b":"E12","k":1331.2,"e":-1.02},{"b":"E12","k":1360.8,"e":-1.14},{"b":"E12","k":1390.4,"e":-1.18},{"b":"E12","k":1420,"e":-1.14},{"b":"E12","k":1452,"e":-1.17},
{"b":"E13","k":1224,"e":-1.34},{"b":"E13","k":1272,"e":-1.29},{"b":"E13","k":1316.4,"e":-1.22},{"b":"E13","k":1360.8,"e":-1.19},{"b":"E13","k":1405.2,"e":-1.27},{"b":"E13","k":1452,"e":-1.34},
{"b":"E14","k":1224,"e":-2.05},{"b":"E14","k":1272,"e":-2.02},{"b":"E14","k":1316.4,"e":-1.97},{"b":"E14","k":1346,"e":-1.92},{"b":"E14","k":1375.6,"e":-1.81},{"b":"E14","k":1405,"e":-1.60},{"b":"E14","k":1420,"e":-1.45},{"b":"E14","k":1429,"e":-1.35},{"b":"E14","k":1452,"e":-1.21},
{"b":"E15","k":1224,"e":-2.05},{"b":"E15","k":1286.8,"e":-2.07},{"b":"E15","k":1316.4,"e":-2.05},{"b":"E15","k":1346,"e":-1.97},{"b":"E15","k":1375.6,"e":-1.89},{"b":"E15","k":1405.2,"e":-1.85},{"b":"E15","k":1452,"e":-1.86},
{"b":"E16","k":1224,"e":-2.17},{"b":"E16","k":1286.8,"e":-2.13},{"b":"E16","k":1346,"e":-2.11},{"b":"E16","k":1405.2,"e":-2.16},{"b":"E16","k":1452,"e":-2.23},
{"b":"E17","k":1224,"e":-2.23},{"b":"E17","k":1286.8,"e":-2.21},{"b":"E17","k":1346,"e":-2.18},{"b":"E17","k":1405.2,"e":-2.17},{"b":"E17","k":1452,"e":-2.17},
{"b":"E18","k":1224,"e":-2.34},{"b":"E18","k":1257.2,"e":-2.37},{"b":"E18","k":1301.6,"e":-2.41},{"b":"E18","k":1346,"e":-2.33},{"b":"E18","k":1375.6,"e":-2.28},{"b":"E18","k":1420,"e":-2.24},{"b":"E18","k":1452,"e":-2.23},
{"b":"E19","k":1224,"e":-2.34},{"b":"E19","k":1257.2,"e":-2.38},{"b":"E19","k":1286.8,"e":-2.45},{"b":"E19","k":1316.4,"e":-2.51},{"b":"E19","k":1360.8,"e":-2.49},{"b":"E19","k":1405.2,"e":-2.40},{"b":"E19","k":1452,"e":-2.23},
{"b":"E20","k":1224,"e":-2.53},{"b":"E20","k":1257.2,"e":-2.54},{"b":"E20","k":1286.8,"e":-2.61},{"b":"E20","k":1316.4,"e":-2.71},{"b":"E20","k":1346,"e":-2.83},{"b":"E20","k":1360.8,"e":-2.84},{"b":"E20","k":1390.4,"e":-2.73},{"b":"E20","k":1420,"e":-2.56},{"b":"E20","k":1452,"e":-2.48},
{"b":"E21","k":1224,"e":-2.84},{"b":"E21","k":1257.2,"e":-2.83},{"b":"E21","k":1286.8,"e":-2.81},{"b":"E21","k":1316.4,"e":-2.83},{"b":"E21","k":1346,"e":-2.87},{"b":"E21","k":1375.6,"e":-2.93},{"b":"E21","k":1405.2,"e":-3.08},{"b":"E21","k":1434.8,"e":-3.21},{"b":"E21","k":1452,"e":-3.23},
{"b":"E22","k":1224,"e":-3.55},{"b":"E22","k":1257.2,"e":-3.52},{"b":"E22","k":1286.8,"e":-3.46},{"b":"E22","k":1316.4,"e":-3.36},{"b":"E22","k":1349,"e":-3.23},{"b":"E22","k":1375.6,"e":-3.33},{"b":"E22","k":1405.2,"e":-3.56},{"b":"E22","k":1434.8,"e":-3.71},{"b":"E22","k":1452,"e":-3.72},
{"b":"E23","k":1224,"e":-3.63},{"b":"E23","k":1257.2,"e":-3.61},{"b":"E23","k":1301.6,"e":-3.48},{"b":"E23","k":1331.2,"e":-3.42},{"b":"E23","k":1360.8,"e":-3.40},{"b":"E23","k":1390.4,"e":-3.40},{"b":"E23","k":1420,"e":-3.34},{"b":"E23","k":1452,"e":-3.30}
    ]
  },
  "encoding": {
    "x": {
      "field": "k",
      "type": "quantitative",
      "scale": {"domain": [0, 1452], "nice": false, "zero": false},
      "axis": {
        "title": null,
        "values": [0, 140.6, 221.6, 383, 611, 751, 832, 994, 1224, 1452],
        "labelExpr": "datum.value < 70 ? 'Γ' : datum.value < 180 ? 'M' : datum.value < 300 ? 'K' : datum.value < 500 ? 'Γ' : datum.value < 680 ? 'A' : datum.value < 790 ? 'L' : datum.value < 900 ? 'H' : datum.value < 1100 ? 'A/L' : datum.value < 1300 ? 'M/K' : 'H'",
        "grid": false,
        "domain": false,
        "ticks": true,
        "tickSize": 11,
        "tickWidth": 2.4,
        "tickColor": "black",
        "labelFont": "Liberation Serif",
        "labelFontSize": 38,
        "labelColor": "black",
        "labelPadding": 24,
        "labelFlush": false,
        "labelOverlap": false,
        "labelBound": false
      }
    }
  },
  "layer": [
    {
      "data": {"name": "sym"},
      "mark": {"type": "rule", "color": "#000000", "opacity": 0.45, "strokeWidth": 2}
    },
    {
      "data": {"name": "bands"},
      "mark": {"type": "line", "interpolate": "monotone", "clip": true, "strokeWidth": 4, "color": "#1f77b4", "opacity": 0.8},
      "encoding": {
        "y": {
          "field": "e",
          "type": "quantitative",
          "scale": {"domain": [-5, 5], "nice": false, "zero": false},
          "axis": {
            "title": "Energy [eV]",
            "titleFont": "Liberation Serif",
            "titleFontSize": 38,
            "titleFontWeight": "normal",
            "titleColor": "black",
            "titleX": -113,
            "titleY": 666.5,
            "titleAngle": 270,
            "titleAlign": "center",
            "titleBaseline": "middle",
            "values": [-4, -3, -2, -1, 0, 1, 2, 3, 4],
            "labelExpr": "datum.value % 2 == 0 ? (datum.value < 0 ? '-' + (-datum.value) : '' + datum.value) : ''",
            "grid": false,
            "domain": false,
            "tickSize": {"condition": {"test": "datum.value % 2 == 0", "value": 11}, "value": 6},
            "tickWidth": 2.4,
            "tickColor": "black",
            "labelFont": "Liberation Serif",
            "labelFontSize": 38,
            "labelColor": "black",
            "labelPadding": 23,
            "labelFlush": false,
            "labelOverlap": false
          }
        },
        "detail": {"field": "b"}
      }
    },
    {
      "data": {"name": "jumps"},
      "mark": {"type": "rule", "color": "#1f77b4", "opacity": 0.8, "strokeWidth": 4},
      "encoding": {
        "y": {"field": "e", "type": "quantitative"},
        "y2": {"field": "e2"}
      }
    }
  ]
}
